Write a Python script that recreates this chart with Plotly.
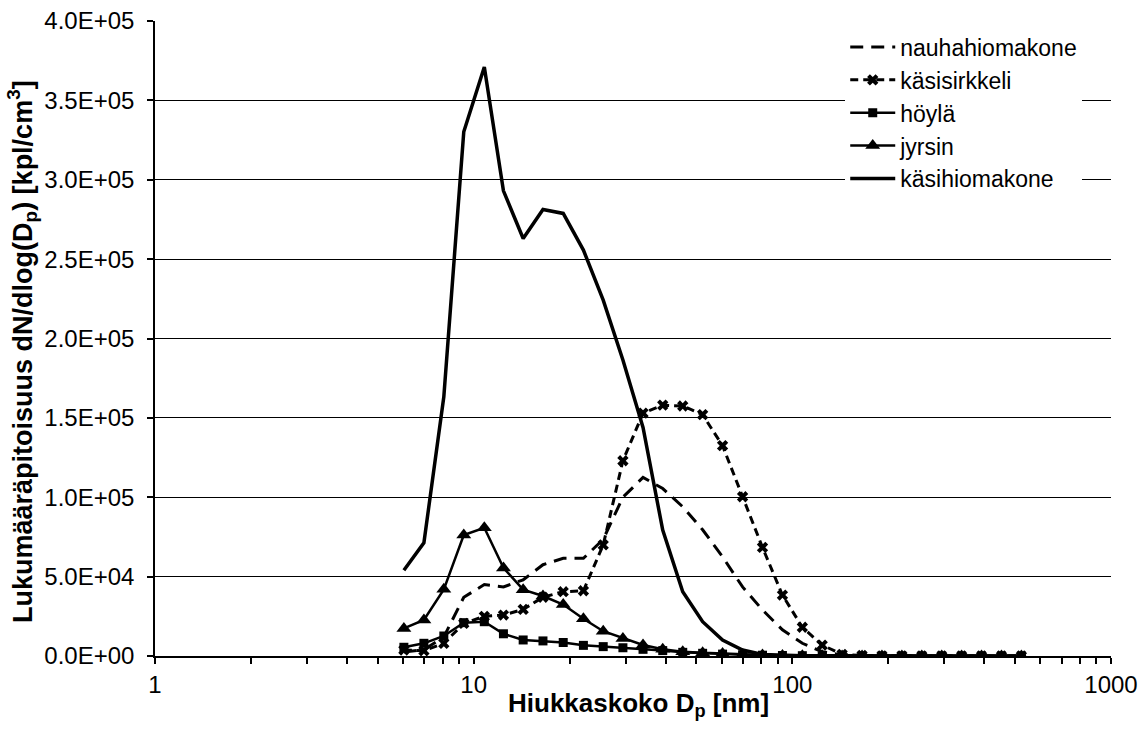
import plotly.graph_objects as go

# Particle diameter channels (nm)
dp = [6.04, 6.98, 8.06, 9.31, 10.8, 12.4, 14.3, 16.5, 19.1, 22.1, 25.5, 29.4,
      34.0, 39.2, 45.3, 52.3, 60.4, 69.8, 80.6, 93.1, 107.5, 124.1, 143.3, 165.5,
      191.1, 220.7, 254.8, 294.3, 339.8, 392.4, 453.2, 523.3]

nauhahiomakone = [2500, 4000, 12000, 37000, 45000, 43500, 48000, 57500, 61500, 61500,
                  73500, 100000, 112500, 105500, 94000, 79500, 62500, 43500, 29000,
                  16500, 8000, 2700, 700, 200, 100, 50, 0, 0, 0, 0, 0, 0]
kasisirkkeli = [3800, 3300, 8000, 20500, 25000, 25800, 29400, 37000, 40500, 41100,
                70000, 123000, 153000, 158000, 157500, 152000, 132500, 100300, 68400,
                38400, 18100, 6900, 1000, 300, 100, 50, 0, 0, 0, 0, 0, 0]
hoyla = [5500, 8000, 12600, 21000, 21600, 14000, 10100, 9500, 8500, 6700, 5900, 5200,
         4200, 3400, 2300, 1700, 1200, 800, 500, 300, 200, 100, 100, 50, 0, 0, 0, 0,
         0, 0, 0, 0]
jyrsin = [17400, 22700, 42000, 76200, 80800, 55500, 41800, 37800, 32400, 23500, 15600,
          11100, 6900, 4200, 2700, 2000, 1500, 1000, 600, 300, 200, 100, 50, 0, 0, 0,
          0, 0, 0, 0, 0, 0]
kasihiomakone = [54000, 71300, 163300, 330200, 371000, 293000, 263000, 281300, 278800,
                 255700, 224200, 186500, 144000, 79300, 40500, 21600, 10000, 3800, 1000,
                 400, 200, 100, 50, 0, 0, 0, 0, 0, 0, 0, 0, 0]

y_ticks = [0, 50000, 100000, 150000, 200000, 250000, 300000, 350000, 400000]
y_ticktext = ["0.0E+00", "5.0E+04", "1.0E+05", "1.5E+05", "2.0E+05", "2.5E+05",
              "3.0E+05", "3.5E+05", "4.0E+05"]
x_ticks = [1, 10, 100, 1000]
x_ticktext = ["1", "10", "100", "1000"]
x_minor = [2, 3, 4, 5, 6, 7, 8, 9, 20, 30, 40, 50, 60, 70, 80, 90,
           200, 300, 400, 500, 600, 700, 800, 900]

x_title = "<b>Hiukkaskoko D<sub>p</sub> [nm]</b>"
y_title = "<b>Lukumääräpitoisuus dN/dlog(D<sub>p</sub>) [kpl/cm<sup>3</sup>]</b>"

FONT = "Liberation Sans, Arial, sans-serif"

fig = go.Figure()
fig.add_trace(go.Scatter(x=dp, y=nauhahiomakone, name="nauhahiomakone", mode="lines",
                         line=dict(color="black", width=3, dash="13px,8px")))
fig.add_trace(go.Scatter(x=dp, y=kasisirkkeli, name="käsisirkkeli", mode="lines+markers",
                         line=dict(color="black", width=3, dash="8px,5px"),
                         marker=dict(symbol="x", size=10, color="black")))
fig.add_trace(go.Scatter(x=dp, y=hoyla, name="höylä", mode="lines+markers",
                         line=dict(color="black", width=2.5),
                         marker=dict(symbol="square", size=9, color="black")))
fig.add_trace(go.Scatter(x=dp, y=jyrsin, name="jyrsin", mode="lines+markers",
                         line=dict(color="black", width=2.5),
                         marker=dict(symbol="triangle-up", size=13, color="black")))
fig.add_trace(go.Scatter(x=dp, y=kasihiomakone, name="käsihiomakone", mode="lines",
                         line=dict(color="black", width=3.5)))

fig.update_layout(
    width=1144, height=737,
    margin=dict(l=155, r=33, t=21, b=81),
    paper_bgcolor="white", plot_bgcolor="white",
    font=dict(family=FONT, size=24, color="black"),
    showlegend=True,
    legend=dict(x=0.722, y=0.993, xanchor="left", yanchor="top",
                bgcolor="white", borderwidth=0, font=dict(size=23),
                itemwidth=45, tracegroupgap=0),
    xaxis=dict(
        type="log", range=[0, 3], automargin=False,
        tickmode="array", tickvals=x_ticks, ticktext=x_ticktext,
        ticks="outside", ticklen=6, tickwidth=1.5, tickcolor="black",
        showline=True, linecolor="black", linewidth=2,
        showgrid=False, zeroline=False,
        minor=dict(tickmode="array", tickvals=x_minor, ticks="outside",
                   ticklen=6, tickwidth=1.5, tickcolor="black", showgrid=False),
        tickfont=dict(size=24),
    ),
    yaxis=dict(
        range=[0, 400000], automargin=False,
        tickmode="array", tickvals=y_ticks, ticktext=y_ticktext,
        ticks="outside", ticklen=6, tickwidth=1.5, tickcolor="black",
        showline=True, linecolor="black", linewidth=1.5,
        showgrid=True, gridcolor="black", gridwidth=1.2,
        zeroline=False,
        ticklabelstandoff=8,
        tickfont=dict(size=24),
    ),
    annotations=[
        dict(text=x_title, xref="paper", yref="paper", x=0.506, y=-0.076,
             xanchor="center", yanchor="middle", showarrow=False,
             font=dict(size=26, family=FONT)),
        dict(text=y_title, xref="paper", yref="paper", x=-0.139, y=0.479,
             xanchor="center", yanchor="middle", showarrow=False, textangle=-90,
             font=dict(size=27, family=FONT)),
    ],
)

fig.write_html("out.html")
